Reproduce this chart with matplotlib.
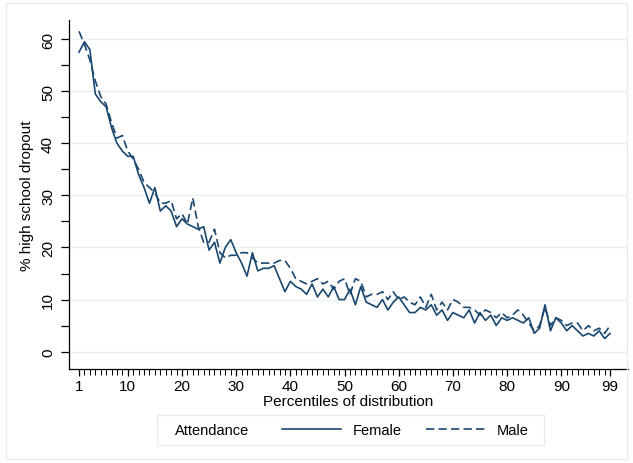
import numpy as np
import matplotlib.pyplot as plt
from matplotlib.lines import Line2D
from matplotlib.patches import Rectangle

plt.rcParams['font.family'] = ['Liberation Sans', 'DejaVu Sans']

# percentiles 1..99
percentiles = np.arange(1, 100)

female = [57.5, 59.5, 58.0, 49.5, 48.0, 47.0, 43.0, 40.0, 38.5, 37.5,
          37.5, 34.0, 31.5, 28.5, 31.5, 27.0, 28.0, 27.0, 24.0, 25.5,
          24.5, 24.0, 23.5, 24.0, 19.5, 21.0, 17.0, 20.0, 21.5, 19.0,
          17.0, 14.5, 19.0, 15.5, 16.0, 16.0, 16.5, 14.0, 11.5, 13.5,
          12.5, 12.0, 11.0, 13.0, 10.5, 12.0, 10.5, 12.5, 10.0, 10.0,
          12.0, 9.0, 12.5, 9.5, 9.0, 8.5, 10.0, 8.0, 9.5, 10.5,
          9.0, 7.5, 7.5, 8.5, 8.0, 9.0, 7.0, 8.0, 6.0, 7.5,
          7.0, 6.5, 8.0, 5.5, 7.5, 6.0, 7.0, 5.0, 6.5, 6.0,
          6.5, 6.0, 5.5, 6.5, 3.5, 4.5, 9.0, 4.0, 6.5, 5.5,
          4.0, 5.0, 4.0, 3.0, 3.5, 3.0, 4.0, 2.5, 3.5]

male = [61.5, 59.0, 56.0, 52.0, 49.0, 47.5, 44.0, 41.0, 41.5, 38.5,
        37.0, 35.0, 32.5, 31.5, 30.5, 28.5, 28.5, 29.0, 25.5, 26.5,
        24.5, 29.5, 24.0, 21.0, 21.0, 23.5, 19.0, 18.0, 18.5, 18.5,
        19.0, 19.0, 18.0, 17.0, 17.0, 17.0, 17.0, 17.5, 17.5, 16.0,
        14.0, 13.5, 13.0, 13.5, 14.0, 13.0, 13.5, 12.0, 13.5, 14.0,
        11.0, 14.0, 13.5, 10.5, 11.0, 11.0, 11.5, 10.0, 11.5, 10.0,
        10.5, 9.5, 9.0, 10.5, 8.5, 11.0, 8.0, 9.5, 8.0, 10.0,
        9.5, 8.5, 8.5, 8.0, 7.0, 8.0, 7.5, 6.5, 7.5, 6.5,
        7.0, 8.0, 7.0, 5.5, 4.0, 5.0, 8.5, 5.0, 6.5, 6.0,
        5.0, 5.5, 5.5, 4.0, 5.0, 4.0, 4.5, 3.5, 5.0]

x_labels = [1, 10, 20, 30, 40, 50, 60, 70, 80, 90, 99]
y_labels = [0, 10, 20, 30, 40, 50, 60]

navy = '#1a476f'
grid_col = '#eaf0f2'
frame_col = '#e6ecf0'
dash = (0, (5, 2.5))

fig = plt.figure(figsize=(6.33, 4.64), dpi=100)
ax = fig.add_axes([0.109, 0.203, 0.883, 0.752])

# outer graph-region border
fig.patches.append(Rectangle((0.009, 0.009), 0.982, 0.982, transform=fig.transFigure,
                             fill=False, edgecolor=frame_col, linewidth=1))

ax.plot(percentiles, female, color=navy, linewidth=1.2, label='Female')
ax.plot(percentiles, male, color=navy, linewidth=1.2, linestyle=dash, label='Male')

ax.set_xlim(-0.85, 102.3)
ax.set_ylim(-3.3, 63.7)

ax.set_xticks(x_labels)
ax.set_xticks(percentiles, minor=True)
ax.set_yticks(np.arange(0, 61, 5))
ax.set_yticklabels([str(v) if v % 10 == 0 else '' for v in np.arange(0, 61, 5)],
                   rotation=90, va='center')

ax.tick_params(axis='x', which='major', length=5, width=0.9, labelsize=11, pad=2)
ax.tick_params(axis='y', which='major', length=6, width=0.9, labelsize=11, pad=4)
ax.tick_params(axis='x', which='minor', length=4, width=0.7)

for v in y_labels:
    ax.axhline(v, color=grid_col, linewidth=1, zorder=0)

for s in ['top', 'right']:
    ax.spines[s].set_visible(False)
ax.spines['left'].set_linewidth(0.9)
ax.spines['bottom'].set_linewidth(0.9)

ax.set_xlabel('Percentiles of distribution', fontsize=11, labelpad=1)
ax.set_ylabel('% high school dropout', fontsize=11, labelpad=5)

# legend: box, title text, then the two keys
fig.patches.append(Rectangle((0.248, 0.039), 0.611, 0.064, transform=fig.transFigure,
                             fill=False, edgecolor=frame_col, linewidth=1))
fig.text(0.276, 0.071, 'Attendance', fontsize=10.5, va='center', ha='left')
handles = [Line2D([], [], color=navy, linewidth=1.2),
           Line2D([], [], color=navy, linewidth=1.2, linestyle=dash)]
fig.legend(handles, ['Female', 'Male'], ncol=2,
           loc='center left', bbox_to_anchor=(0.445, 0.071), fontsize=10.5,
           frameon=False, borderpad=0, borderaxespad=0,
           handlelength=4.1, handletextpad=0.75, columnspacing=1.7)

fig.savefig('out.png', dpi=100)
